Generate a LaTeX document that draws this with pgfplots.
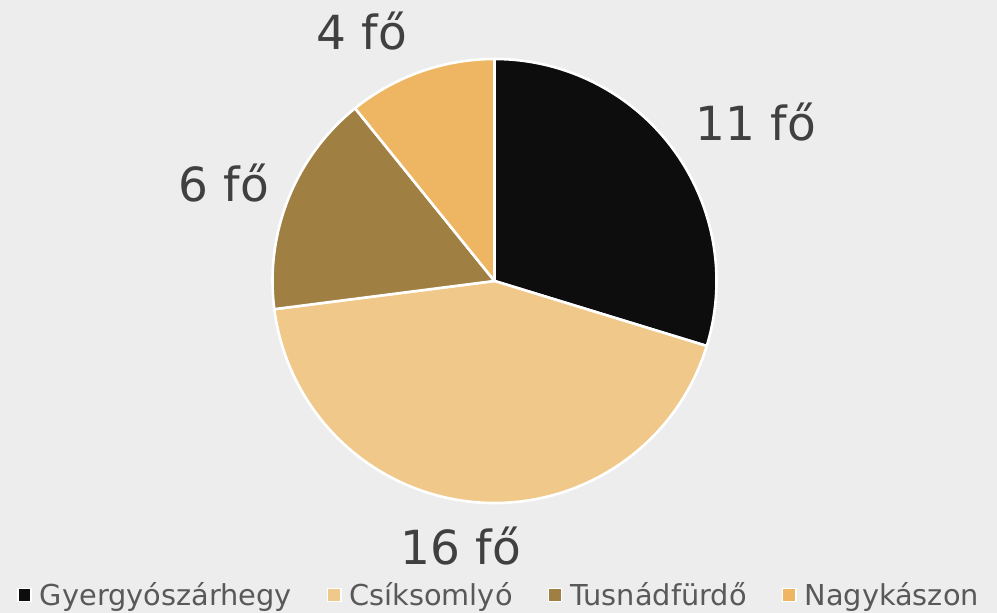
\documentclass[border=0pt]{standalone}
\usepackage{pgfplots}
\pgfplotsset{compat=1.18}
\usepackage{pgfplotstable}
\usepackage{fontspec}
\setmainfont{DejaVu Sans}

\definecolor{bg}{HTML}{EDEDED}
\definecolor{c1}{HTML}{0D0D0D}
\definecolor{c2}{HTML}{F0C98A}
\definecolor{c3}{HTML}{A07F43}
\definecolor{c4}{HTML}{EEB662}
\definecolor{labtext}{HTML}{404040}
\definecolor{legtext}{HTML}{595959}

% value, colour, label position (axis units = px, y from bottom)
\pgfplotstableread[col sep=comma]{
name,value,col,lx,ly
Gyergyószárhegy,11,c1,756,472
Csíksomlyó,16,c2,461,48
Tusnádfürdő,6,c3,224,411
Nagykászon,4,c4,362,563
}\piedata

\begin{document}
\begin{tikzpicture}
\begin{axis}[
    width=498.5pt, height=306.5pt, scale only axis,
    xmin=0, xmax=997, ymin=0, ymax=613,
    hide axis, clip=false,
    legend columns=4,
    legend style={at={(axis cs:500,18)}, anchor=center, draw=none, fill=none,
        font=\fontsize{14.4}{16}\selectfont, text=legtext,
        /tikz/every odd column/.append style={column sep=2pt},
        /tikz/every even column/.append style={column sep=15.5pt}},
]
\fill[bg] (axis cs:0,0) rectangle (axis cs:997,613);
\coordinate (bl) at (axis cs:0,0);
\coordinate (tr) at (axis cs:997,613);

\addlegendimage{legend image code/.code={\draw[fill=c1,draw=white,line width=0.8pt] (0,-3.3pt) rectangle (6.6pt,3.3pt);}}
\addlegendentry{Gyergyószárhegy}
\addlegendimage{legend image code/.code={\draw[fill=c2,draw=white,line width=0.8pt] (0,-3.3pt) rectangle (6.6pt,3.3pt);}}
\addlegendentry{Csíksomlyó}
\addlegendimage{legend image code/.code={\draw[fill=c3,draw=white,line width=0.8pt] (0,-3.3pt) rectangle (6.6pt,3.3pt);}}
\addlegendentry{Tusnádfürdő}
\addlegendimage{legend image code/.code={\draw[fill=c4,draw=white,line width=0.8pt] (0,-3.3pt) rectangle (6.6pt,3.3pt);}}
\addlegendentry{Nagykászon}

\def\total{0}
\pgfplotsforeachungrouped \i in {0,...,3}{%
  \pgfplotstablegetelem{\i}{value}\of\piedata
  \pgfmathsetmacro\total{\total+\pgfplotsretval}%
}
\def\angA{90}
\pgfplotsforeachungrouped \i in {0,...,3}{%
  \pgfplotstablegetelem{\i}{value}\of\piedata
  \let\val\pgfplotsretval
  \pgfmathsetmacro\angB{\angA-360*\val/\total}%
  \pgfplotstablegetelem{\i}{col}\of\piedata
  \let\col\pgfplotsretval
  \pgfplotstablegetelem{\i}{lx}\of\piedata
  \let\lx\pgfplotsretval
  \pgfplotstablegetelem{\i}{ly}\of\piedata
  \let\ly\pgfplotsretval
  \edef\cmd{\noexpand\fill[fill=\col, draw=white, line width=1.3pt, line join=round]
    (axis cs:494.5,332) -- ++(\angA:111pt)
    arc[start angle=\angA, end angle=\angB, radius=111pt] -- cycle;
    \noexpand\node[anchor=base, text=labtext, font=\noexpand\fontsize{23.5}{28}\noexpand\selectfont]
    at (axis cs:\lx,\ly) {\val\space fő};}%
  \cmd
  \global\let\angA\angB
}
\end{axis}
\pgfresetboundingbox
\path (bl) rectangle (tr);
\end{tikzpicture}
\end{document}
